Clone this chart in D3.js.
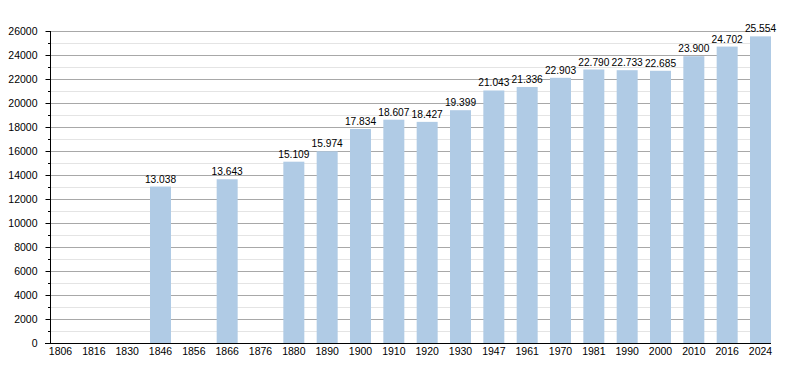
<!DOCTYPE html>
<html>
<head>
<meta charset="utf-8">
<script src="https://cdn.jsdelivr.net/npm/d3@7"></script>
<style>
  body { margin: 0; background: #fff; }
  text { font-family: "Liberation Sans", Arial, sans-serif; fill: #000; }
</style>
</head>
<body>
<svg id="chart" width="800" height="373"></svg>
<script>
var years = ["1806", "1816", "1830", "1846", "1856", "1866", "1876", "1880", "1890", "1900", "1910",
             "1920", "1930", "1947", "1961", "1970", "1981", "1990", "2000", "2010", "2016", "2024"];
// bar heights as drawn in the picture (the 1970 bar sits lower than its label says)
var population = [null, null, null, 13038, null, 13643, null, 15109, 15974, 17834, 18607,
                  18427, 19399, 21043, 21336, 22100, 22790, 22733, 22685, 23900, 24702, 25554];
var valueLabels = ["", "", "", "13.038", "", "13.643", "", "15.109", "15.974", "17.834", "18.607",
                   "18.427", "19.399", "21.043", "21.336", "22.903", "22.790", "22.733", "22.685", "23.900", "24.702", "25.554"];
var yMajorTicks = [0, 2000, 4000, 6000, 8000, 10000, 12000, 14000, 16000, 18000, 20000, 22000, 24000, 26000];
var yMinorTicks = [1000, 3000, 5000, 7000, 9000, 11000, 13000, 15000, 17000, 19000, 21000, 23000, 25000];

var svg = d3.select("#chart");
var plotLeft = 50, plotRight = 771, plotTop = 31, plotBottom = 343;
var barW = 21;

var x = d3.scalePoint()
    .domain(years)
    .range([plotLeft, plotRight - barW]);

var y = d3.scaleLinear()
    .domain([0, 26000])
    .range([plotBottom, plotTop]);

// grid
svg.append("g").selectAll("line").data(yMinorTicks).enter().append("line")
    .attr("x1", plotLeft).attr("x2", plotRight)
    .attr("y1", function(d) { return Math.round(y(d)) + 0.5; })
    .attr("y2", function(d) { return Math.round(y(d)) + 0.5; })
    .attr("stroke", "#e4e4e4");
svg.append("g").selectAll("line").data(yMajorTicks.slice(1)).enter().append("line")
    .attr("x1", plotLeft).attr("x2", plotRight)
    .attr("y1", function(d) { return Math.round(y(d)) + 0.5; })
    .attr("y2", function(d) { return Math.round(y(d)) + 0.5; })
    .attr("stroke", "#a8a8a8");

// bars
var data = years.map(function(yr, i) { return { year: yr, value: population[i], label: valueLabels[i] }; })
    .filter(function(d) { return d.value !== null; });

svg.append("g").selectAll("rect").data(data).enter().append("rect")
    .attr("x", function(d) { return x(d.year); })
    .attr("y", function(d) { return y(d.value); })
    .attr("width", barW)
    .attr("height", function(d) { return plotBottom - y(d.value); })
    .attr("fill", "#b0cbe5");

svg.append("g").selectAll("text").data(data).enter().append("text")
    .attr("x", function(d) { return x(d.year) + barW / 2; })
    .attr("y", function(d) { return y(d.value) - 4; })
    .attr("text-anchor", "middle")
    .attr("font-size", "10.2px")
    .text(function(d) { return d.label; });

// y axis
var yAxis = svg.append("g")
    .attr("transform", "translate(" + (plotLeft + 0.5) + ",0)")
    .call(d3.axisLeft(y).tickValues(yMajorTicks).tickSize(5).tickPadding(8).tickFormat(function(d) { return d; }));
yAxis.select(".domain").attr("d", "M0," + plotTop + "V" + (plotBottom + 0.5));
yAxis.selectAll(".tick line").attr("stroke", "#000");
yAxis.selectAll(".tick text").attr("font-size", "10.5px").attr("font-family", null);

svg.append("g").selectAll("line").data(yMinorTicks).enter().append("line")
    .attr("x1", plotLeft - 2).attr("x2", plotLeft)
    .attr("y1", function(d) { return Math.round(y(d)) + 0.5; })
    .attr("y2", function(d) { return Math.round(y(d)) + 0.5; })
    .attr("stroke", "#000");

// x axis
svg.append("line")
    .attr("x1", plotLeft - 5).attr("x2", plotRight)
    .attr("y1", plotBottom + 0.5).attr("y2", plotBottom + 0.5)
    .attr("stroke", "#000");

svg.append("g").selectAll("text").data(years).enter().append("text")
    .attr("x", function(d) { return x(d) + barW / 2; })
    .attr("y", plotBottom + 12)
    .attr("text-anchor", "middle")
    .attr("font-size", "10.5px")
    .text(function(d) { return d; });
</script>
</body>
</html>
